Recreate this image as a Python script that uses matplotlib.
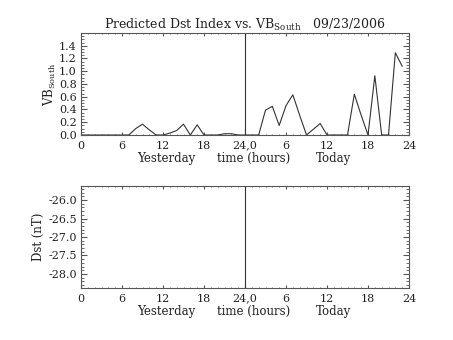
import numpy as np
import matplotlib
matplotlib.use("Agg")
import matplotlib.pyplot as plt
from matplotlib.ticker import MultipleLocator, FormatStrFormatter

plt.rcParams['font.family'] = ['DejaVu Serif']
plt.rcParams['mathtext.fontset'] = 'dejavuserif'

# Hourly samples over two days (yesterday 0-23, today 24-47)
hours = list(range(48))
vb_south = [0.00, 0.00, 0.00, 0.00, 0.00, 0.00, 0.00, 0.00, 0.10, 0.17,
            0.08, 0.00, 0.00, 0.03, 0.07, 0.17, 0.00, 0.16, 0.00, 0.00,
            0.00, 0.02, 0.02, 0.00, 0.00, 0.00, 0.00, 0.39, 0.45, 0.15,
            0.46, 0.63, 0.31, 0.00, 0.09, 0.18, 0.00, 0.00, 0.00, 0.00,
            0.64, 0.31, 0.00, 0.93, 0.00, 0.00, 1.29, 1.08]

x_ticks = [0, 6, 12, 18, 24, 30, 36, 42, 48]
x_tick_labels = ['0', '6', '12', '18', '24,0', '6', '12', '18', '24']
vb_ticks = [0.0, 0.2, 0.4, 0.6, 0.8, 1.0, 1.2, 1.4]
dst_ticks = [-26.0, -26.5, -27.0, -27.5, -28.0]

W, H = 453, 340
fig = plt.figure(figsize=(W / 100, H / 100), dpi=100)

ax_col = '#555555'
line_col = '#333333'
txt_col = '#222222'


def frac(left, top, right, bottom):
    return [left / W, 1 - bottom / H, (right - left) / W, (bottom - top) / H]


def style_axes(ax):
    ax.set_xlim(0, 48)
    ax.set_xticks(x_ticks)
    ax.set_xticklabels(x_tick_labels)
    ax.xaxis.set_minor_locator(MultipleLocator(1))
    for s in ax.spines.values():
        s.set_color(ax_col)
        s.set_linewidth(0.8)
    ax.tick_params(which='both', direction='in', top=True, right=True,
                   colors=ax_col, labelcolor=txt_col, labelsize=8)
    ax.tick_params(axis='x', which='major', length=2.0, pad=4)
    ax.tick_params(axis='x', which='minor', length=1.0)
    ax.tick_params(axis='y', which='major', length=4.5, pad=3)
    ax.tick_params(axis='y', which='minor', length=2.3)
    ax.axvline(24, color=line_col, lw=0.8)
    for xpos, txt in [(12.4, 'Yesterday'), (25.2, 'time (hours)'), (37.0, 'Today')]:
        ax.annotate(txt, xy=(xpos, 0), xycoords=('data', 'axes fraction'),
                    xytext=(0, -12), textcoords='offset points',
                    ha='center', va='top', fontsize=8.5, color=txt_col)


# Upper panel: VB south
ax1 = fig.add_axes(frac(81, 33, 409, 135))
ax1.plot(hours, vb_south, color=line_col, lw=0.8)
ax1.set_ylim(0, 1.6)
ax1.set_yticks(vb_ticks)
ax1.yaxis.set_major_formatter(FormatStrFormatter('%.1f'))
ax1.yaxis.set_minor_locator(MultipleLocator(0.05))
style_axes(ax1)
ax1.set_ylabel(r'VB$_{\rm South}$', fontsize=8.5, color=txt_col, labelpad=1)
ax1.set_title(r'Predicted Dst Index vs. VB$_{\rm South}$   09/23/2006',
              fontsize=9, color=txt_col, pad=2)

# Lower panel: Dst
ax2 = fig.add_axes(frac(81, 186, 409, 288))
ax2.set_ylim(-28.38, -25.62)
ax2.set_yticks(dst_ticks)
ax2.yaxis.set_major_formatter(FormatStrFormatter('%.1f'))
ax2.yaxis.set_minor_locator(MultipleLocator(0.1))
style_axes(ax2)
ax2.set_ylabel('Dst (nT)', fontsize=8.5, color=txt_col, labelpad=2)

fig.savefig('out.png', dpi=100, facecolor='white')
